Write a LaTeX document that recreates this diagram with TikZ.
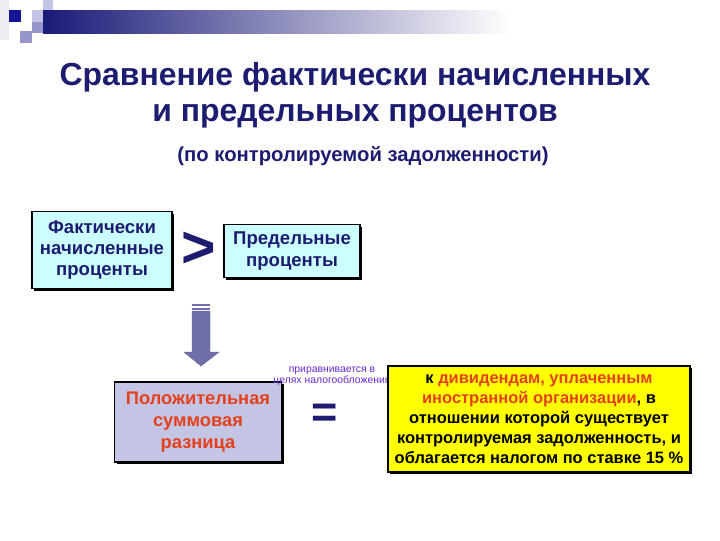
\documentclass[tikz,border=0pt]{standalone}
\usepackage{fontspec}
\setmainfont{Liberation Sans}
\usetikzlibrary{shadows}

\definecolor{titleblue}{RGB}{28,28,112}
\definecolor{barblue}{RGB}{26,26,120}
\definecolor{squareblue}{RGB}{20,20,150}
\definecolor{lavlight}{RGB}{196,196,228}
\definecolor{lavmid}{RGB}{150,150,204}
\definecolor{palegrey}{RGB}{236,236,242}
\definecolor{cyanbox}{RGB}{204,255,255}
\definecolor{lavbox}{RGB}{196,196,228}
\definecolor{yellowbox}{RGB}{255,255,0}
\definecolor{diffred}{RGB}{228,64,28}
\definecolor{arrowgrey}{RGB}{110,110,168}
\definecolor{notepurple}{RGB}{102,40,204}

\tikzset{
  panel/.style={draw=black, line width=1.2pt, align=center, inner sep=0pt,
    drop shadow={shadow xshift=1.6pt, shadow yshift=-1.6pt, fill=black, opacity=1}},
  symbol/.style={text=titleblue, inner sep=0pt},
}

\begin{document}
\begin{tikzpicture}[x=0.025cm, y=-0.025cm]
    \useasboundingbox (0,0) rectangle (720,540);
    % header band
    \fill[palegrey] (0,0) rectangle (9,40);
    \fill[left color=barblue, right color=white] (43,10) rectangle (510,33);
    \fill[lavlight] (32,10) rectangle (43,22);
    \fill[lavmid] (32,22) rectangle (43,33);
    \fill[lavlight] (43,0) rectangle (53,10);
    \fill[lavmid] (20,31) rectangle (32,43);
    \fill[squareblue] (9,10) rectangle (21,22);
    % title
    \node[align=center, text=titleblue, font=\fontsize{22.7}{25.6}\selectfont\bfseries] (title) at (355,95)
      {Сравнение фактически начисленных\\и предельных процентов};
    \node[text=titleblue, font=\fontsize{14.4}{16}\selectfont\bfseries] (subtitle) at (363,156)
      {(по контролируемой задолженности)};
    % comparison row
    \node[panel, fill=cyanbox, text=titleblue, minimum width=3.5cm, minimum height=1.925cm,
      font=\fontsize{13.2}{15}\selectfont\bfseries] (actual) at (102,250)
      {Фактически\\начисленные\\проценты};
    \node[symbol, font=\fontsize{42}{42}\selectfont\bfseries] (gt) at (199,250) {>};
    \node[panel, fill=cyanbox, text=titleblue, minimum width=3.4cm, minimum height=1.325cm,
      font=\fontsize{13.2}{15.6}\selectfont\bfseries] (limit) at (292,251)
      {Предельные\\проценты};
    % difference row
    \node[panel, fill=lavbox, text=diffred, minimum width=4.175cm, minimum height=2cm,
      font=\fontsize{13}{15.6}\selectfont\bfseries] (diff) at (198,422)
      {Положительная\\суммовая\\разница};
    \node[symbol, font=\fontsize{32}{32}\selectfont\bfseries] (eq) at (325,416) {=};
    \node[align=center, text=notepurple, font=\fontsize{7.4}{7.8}\selectfont] (note) at (332,376)
      {приравнивается в\\целях налогообложения};
    \node[panel, fill=yellowbox, text=black, minimum width=7.55cm, minimum height=2.65cm,
      font=\fontsize{11.7}{14.2}\selectfont\bfseries] (dividend) at (539,419)
      {к {\color{diffred}дивидендам, уплаченным}\\{\color{diffred}иностранной организации}, в\\отношении которой существует\\контролируемая задолженность, и\\облагается налогом по ставке 15 \%};
    % down arrow
    \coordinate (arrtop) at (201,311);
    \fill[arrowgrey] (192,304) rectangle (210,306);
    \fill[arrowgrey] (192,307.5) rectangle (210,309.5);
    \fill[arrowgrey, draw=titleblue!70, line width=0.3pt] (arrtop) ++(-9,0) -- ++(18,0) -- ++(0,41) -- ++(9,0)
      -- (201,366) -- (184,352) -- ++(8,0) -- cycle;
\end{tikzpicture}
\end{document}
